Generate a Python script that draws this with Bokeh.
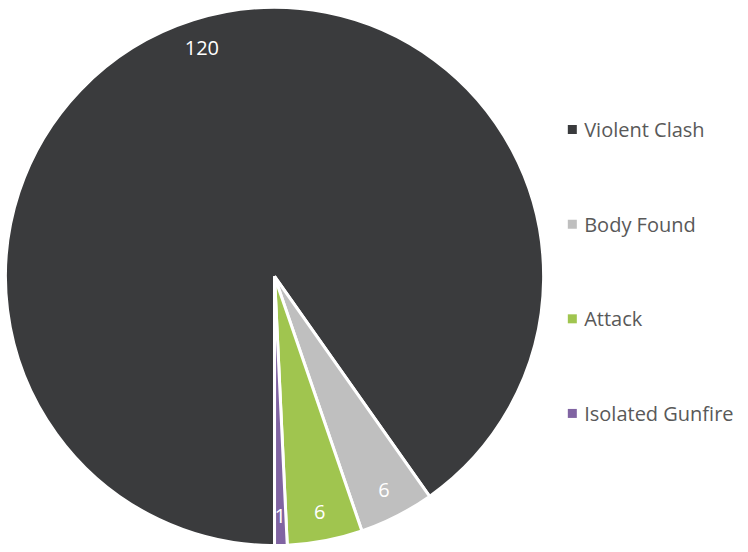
import math
from bokeh.plotting import figure
from bokeh.models import Range1d, ColumnDataSource
from bokeh.core.properties import value
from bokeh.embed import file_html
from bokeh.resources import INLINE

categories = ["Violent Clash", "Body Found", "Attack", "Isolated Gunfire"]
counts = [120, 6, 6, 1]
colors = ["#3A3B3D", "#BFBFBF", "#A0C54F", "#8064A2"]

W, H = 740, 544               # figure size in px
RW, RH = 748, 552             # layout space (reference px)
CX, CY, R = 277, 280, 272     # pie centre / radius in layout px
FIRST_SLICE = 180.0           # degrees clockwise from 12 o'clock

p = figure(width=W, height=H, output_backend="svg", toolbar_location=None,
           x_range=Range1d(0, RW), y_range=Range1d(-RH, 0),
           min_border=0, outline_line_color=None)
p.axis.visible = False
p.grid.visible = False
p.background_fill_color = "white"
p.border_fill_color = "white"

total = sum(counts)
starts, ends, lx, ly, labels = [], [], [], [], []
acc = FIRST_SLICE
for c in counts:
    a0 = acc
    a1 = acc + c / total * 360.0
    acc = a1
    starts.append(math.radians(90 - a0))
    ends.append(math.radians(90 - a1))
    mid = math.radians((a0 + a1) / 2)
    lr = 0.893 * R
    lx.append(CX + lr * math.sin(mid))
    ly.append(-(CY - lr * math.cos(mid)))
    labels.append(str(c))

src = ColumnDataSource(dict(start=starts, end=ends, color=colors,
                            lx=lx, ly=ly, label=labels))
p.wedge(x=CX, y=-CY, radius=R, start_angle="start", end_angle="end",
        direction="clock", fill_color="color", line_color="white",
        line_width=3, source=src)
p.text(x="lx", y="ly", text="label", source=src, text_color="white",
       text_font=value("Open Sans"), text_font_size="20px",
       text_align="center", text_baseline="middle")

# legend
LEG_X, LEG_Y0, LEG_DY = 578, 131, 96
n = len(categories)
leg_y = [-(LEG_Y0 + i * LEG_DY) for i in range(n)]
leg_src = ColumnDataSource(dict(x=[LEG_X] * n, tx=[LEG_X + 12] * n,
                                y=leg_y, color=colors, name=categories))
p.scatter(x="x", y="y", marker="square", size=9, fill_color="color",
          line_color=None, source=leg_src)
p.text(x="tx", y="y", text="name", source=leg_src, text_color="#595959",
       text_font=value("Open Sans"), text_font_size="20px",
       text_align="left", text_baseline="middle")

open("out.html", "w").write(file_html(p, INLINE))
